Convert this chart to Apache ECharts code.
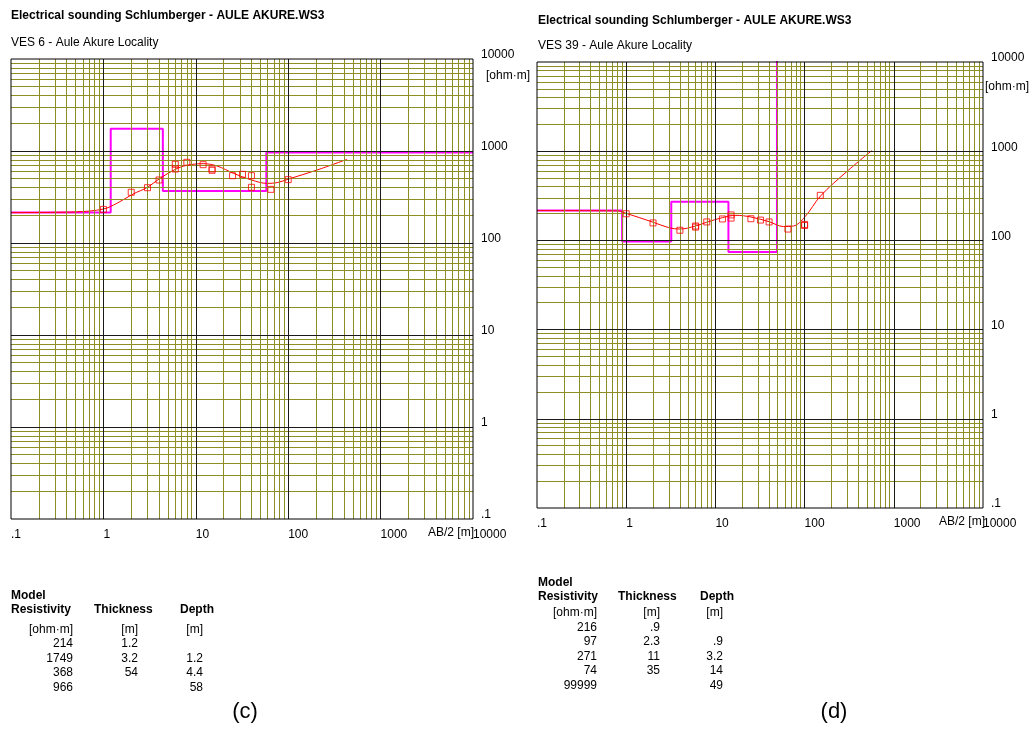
<!DOCTYPE html>
<html><head><meta charset="utf-8">
<script src="https://cdn.jsdelivr.net/npm/echarts@6/dist/echarts.min.js"></script>
<style>html,body{margin:0;padding:0;background:#fff}#c{width:1033px;height:729px}</style>
</head><body><div id="c"></div>
<script>
// ---------- data ----------
const xTickLabels = ['.1', '1', '10', '100', '1000', '10000'];
const yTickLabels = ['.1', '1', '10', '100', '1000', '10000'];

// VES 6
const ves6Observed = [[1,232],[2,356],[3,399],[4,484],[6,717],[6,637],[8,754],[12,710],[15,637],[15,617],[25,539],[32,558],[40,539],[40,403],[65,383],[100,488]];
const ves6Calculated = [[0.1,214],[0.5,218],[1,234],[1.4,270],[2.1,341],[3,403],[4,496],[6,632],[8,699],[12,728],[17,687],[25.6,572],[40,484],[59,445],[76,453],[101,496],[205,621],[434,812]];
const ves6Resistivity = [214, 1749, 368, 966];
const ves6Thickness = [1.2, 3.2, 54];
const ves6Depth = [1.2, 4.4, 58];

// VES 39
const ves39Observed = [[1,199],[2,157],[4,130],[6,141],[6,145],[8,161],[12,174],[15,193],[15,178],[25,175],[32,169],[40,161],[65,134],[100,151],[100,147],[150,320]];
const ves39Calculated = [[0.1,216],[0.8,214],[1,201],[2,160],[3,139],[4,134],[6,145],[8,160],[12,180],[17,191],[25,183],[40,162],[58,143],[75,145],[101,184],[151,315],[296,589],[565,1014]];
const ves39Resistivity = [216, 97, 271, 74, 99999];
const ves39Thickness = [0.9, 2.3, 11, 35];
const ves39Depth = [0.9, 3.2, 14, 49];

// ---------- chart ----------
const FONT = '"Liberation Sans", Arial, sans-serif';
const X_MIN = 0.1, X_MAX = 10000;
const OLIVE = '#8e8e24';
const minorVals = [];
[0.1, 1, 10, 100, 1000].forEach(d => { for (let k = 2; k <= 9; k++) minorVals.push(+(d * k).toPrecision(3)); });
const majorVals = [1, 10, 100, 1000];

function modelLine(res, depth) {
  const pts = [[X_MIN, res[0]]];
  depth.forEach((d, i) => { pts.push([d, res[i]]); pts.push([d, res[i + 1]]); });
  pts.push([X_MAX, res[res.length - 1]]);
  return pts;
}
const fmt = v => String(v).replace(/^0\./, '.');

const grids = [
  {left: 11, top: 59, width: 462, height: 460},
  {left: 537, top: 62, width: 446, height: 446}
];
const panels = [
  {obs: ves6Observed, calc: ves6Calculated, res: ves6Resistivity, depth: ves6Depth},
  {obs: ves39Observed, calc: ves39Calculated, res: ves39Resistivity, depth: ves39Depth}
];

const xAxes = [], yAxes = [], series = [];
panels.forEach((p, i) => {
  xAxes.push({
    gridIndex: i, type: 'log', logBase: 10, min: X_MIN, max: X_MAX, splitNumber: 5,
    axisLine: {show: false}, axisTick: {show: false}, splitLine: {show: false},
    axisLabel: {formatter: (v, idx) => xTickLabels[idx], align: 'left', margin: 10,
      fontFamily: FONT, fontSize: 12, color: '#000'}
  });
  yAxes.push({
    gridIndex: i, type: 'log', logBase: 10, min: 0.1, max: 10000, splitNumber: 5, position: 'right',
    axisLine: {show: false}, axisTick: {show: false}, splitLine: {show: false},
    axisLabel: {formatter: (v, idx) => yTickLabels[idx], align: 'left', verticalAlign: 'bottom', margin: 8,
      lineHeight: 8, fontFamily: FONT, fontSize: 12, color: '#000'}
  });
  const ml = (vals, color, z) => ({
    type: 'line', xAxisIndex: i, yAxisIndex: i, data: [], silent: true, z: z,
    markLine: {silent: true, symbol: ['none', 'none'], label: {show: false}, animation: false,
      lineStyle: {color: color, width: 1, type: 'solid'},
      emphasis: {disabled: true},
      data: vals.map(v => ({xAxis: v})).concat(vals.map(v => ({yAxis: v})))}
  });
  series.push(ml(minorVals, OLIVE, 1));
  series.push(ml(majorVals, '#1a1a1a', 2));
  series.push({type: 'line', xAxisIndex: i, yAxisIndex: i, data: modelLine(p.res, p.depth), symbol: 'none',
    lineStyle: {color: '#ff00ff', width: 2}, z: 3, silent: true});
  series.push({type: 'line', xAxisIndex: i, yAxisIndex: i, data: p.calc, symbol: 'none', smooth: 0.35,
    lineStyle: {color: '#ff0000', width: 1}, z: 4, silent: true});
  series.push({type: 'scatter', xAxisIndex: i, yAxisIndex: i, data: p.obs, symbol: 'rect', symbolSize: 6,
    itemStyle: {color: 'rgba(255,255,255,0)', borderColor: '#ff0000', borderWidth: 1}, z: 5, silent: true});
});

// text elements
const T = (text, x, y, opts = {}) => ({
  type: 'text', x: x, y: y, z: 10, silent: true,
  style: {text: text, font: (opts.bold ? 'bold ' : '') + (opts.size || 12) + 'px ' + FONT,
    fill: '#000', textAlign: opts.align || 'left', textVerticalAlign: 'middle'}
});
const graphics = [
  T('Electrical sounding Schlumberger - AULE AKURE.WS3', 11, 16, {bold: true}),
  T('VES 6 - Aule Akure Locality', 11, 43),
  T('[ohm·m]', 486, 76),
  T('AB/2 [m]', 428, 533),
  T('Electrical sounding Schlumberger - AULE AKURE.WS3', 538, 21, {bold: true}),
  T('VES 39 - Aule Akure Locality', 538, 46),
  T('[ohm·m]', 985, 87),
  T('AB/2 [m]', 939, 522),
  T('(c)', 245, 712, {size: 22, align: 'center'}),
  T('(d)', 834, 712, {size: 22, align: 'center'})
];
function table(res, thick, depth, x0, cols, yModel, yHead, yUnit, rowYs, colR) {
  graphics.push(T('Model', x0, yModel, {bold: true}));
  graphics.push(T('Resistivity', cols[0], yHead, {bold: true}));
  graphics.push(T('Thickness', cols[1], yHead, {bold: true}));
  graphics.push(T('Depth', cols[2], yHead, {bold: true}));
  graphics.push(T('[ohm·m]', colR[0], yUnit, {align: 'right'}));
  graphics.push(T('[m]', colR[1], yUnit, {align: 'right'}));
  graphics.push(T('[m]', colR[2], yUnit, {align: 'right'}));
  res.forEach((r, i) => {
    const y = rowYs[0] + i * rowYs[1];
    graphics.push(T(fmt(r), colR[0], y, {align: 'right'}));
    if (i < thick.length) graphics.push(T(fmt(thick[i]), colR[1], y, {align: 'right'}));
    if (i > 0) graphics.push(T(fmt(depth[i - 1]), colR[2], y, {align: 'right'}));
  });
}
table(ves6Resistivity, ves6Thickness, ves6Depth, 11, [11, 94, 180], 596, 610, 630, [644, 14.5], [73, 138, 203]);
table(ves39Resistivity, ves39Thickness, ves39Depth, 538, [538, 618, 700], 583, 597, 613, [627.5, 14.5], [597, 660, 723]);

const chart = echarts.init(document.getElementById('c'), null, {renderer: 'canvas'});
chart.setOption({
  animation: false,
  backgroundColor: '#fff',
  grid: grids.map(g => Object.assign({show: true, borderColor: '#000', borderWidth: 1, backgroundColor: 'transparent', containLabel: false, z: 6}, g)),
  xAxis: xAxes,
  yAxis: yAxes,
  series: series,
  graphic: graphics
});
</script>
</body></html>
